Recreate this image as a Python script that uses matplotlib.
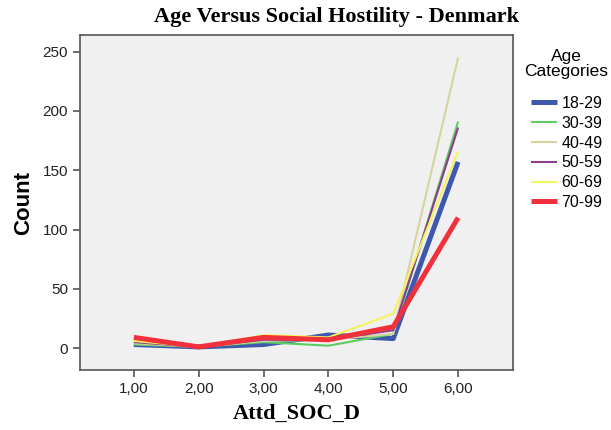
import matplotlib
matplotlib.use("Agg")
import matplotlib.pyplot as plt

x_vals = [1, 2, 3, 4, 5, 6]
x_labels = ["1,00", "2,00", "3,00", "4,00", "5,00", "6,00"]
age_groups = ["18-29", "30-39", "40-49", "50-59", "60-69", "70-99"]

counts_18_29 = [3, 1, 3, 11, 8, 157]
counts_30_39 = [3, 1, 5, 2, 12, 191]
counts_40_49 = [4, 1, 6, 7, 12, 245]
counts_50_59 = [5, 1, 7, 7, 15, 186]
counts_60_69 = [6, 1, 11, 9, 29, 166]
counts_70_99 = [9, 1, 9, 7, 18, 110]

series = [counts_18_29, counts_30_39, counts_40_49, counts_50_59, counts_60_69, counts_70_99]
colors = ["#3d58ad", "#5fcb63", "#d6d3a0", "#8a3f8d", "#f5f35c", "#f0303a"]
widths = [3.6, 1.5, 1.5, 1.5, 1.5, 3.6]

fig = plt.figure(figsize=(6.11, 4.30), dpi=100)
ax = fig.add_axes([0.131, 0.1395, 0.709, 0.779])
ax.set_facecolor("#f0f0f0")

for vals, c, w, lab in zip(series, colors, widths, age_groups):
    ax.plot(x_vals, vals, color=c, lw=w, label=lab, solid_capstyle="butt")

ax.set_xlim(0.17, 6.85)
ax.set_ylim(-18.5, 264)
ax.set_xticks(x_vals)
ax.set_xticklabels(x_labels)
ax.set_yticks([0, 50, 100, 150, 200, 250])

for s in ax.spines.values():
    s.set_color("#555555")
    s.set_linewidth(1.2)
ax.tick_params(direction="out", length=5, width=1.2, color="#555555",
               labelsize=11, labelcolor="#222222")
for t in ax.get_xticklabels() + ax.get_yticklabels():
    t.set_family("Liberation Sans")

# title sits over plot + legend, not just the axes
fig.text(337 / 611, 1 - 17 / 430, "Age Versus Social Hostility - Denmark",
         family="Liberation Serif", fontweight="bold", fontsize=16,
         ha="center", va="center")
ax.set_xlabel("Attd_SOC_D", family="Liberation Serif", fontweight="bold",
              fontsize=16, labelpad=6)
ax.set_ylabel("Count", family="Liberation Sans", fontweight="bold",
              fontsize=16, labelpad=6)

# legend title drawn separately so the gap below it matches
fig.text(566 / 611, 1 - 64 / 430, "Age\nCategories", family="Liberation Sans",
         fontsize=12.5, ha="center", va="center", multialignment="center",
         linespacing=1.0)
leg = fig.legend(*ax.get_legend_handles_labels(),
                 loc="upper left", bbox_to_anchor=(531 / 611, 1 - 96 / 430),
                 frameon=False, prop={"family": "Liberation Sans", "size": 11.5},
                 handlelength=1.65, handletextpad=0.25, labelspacing=0.3,
                 borderpad=0, borderaxespad=0)

fig.savefig("out.png", dpi=100)
